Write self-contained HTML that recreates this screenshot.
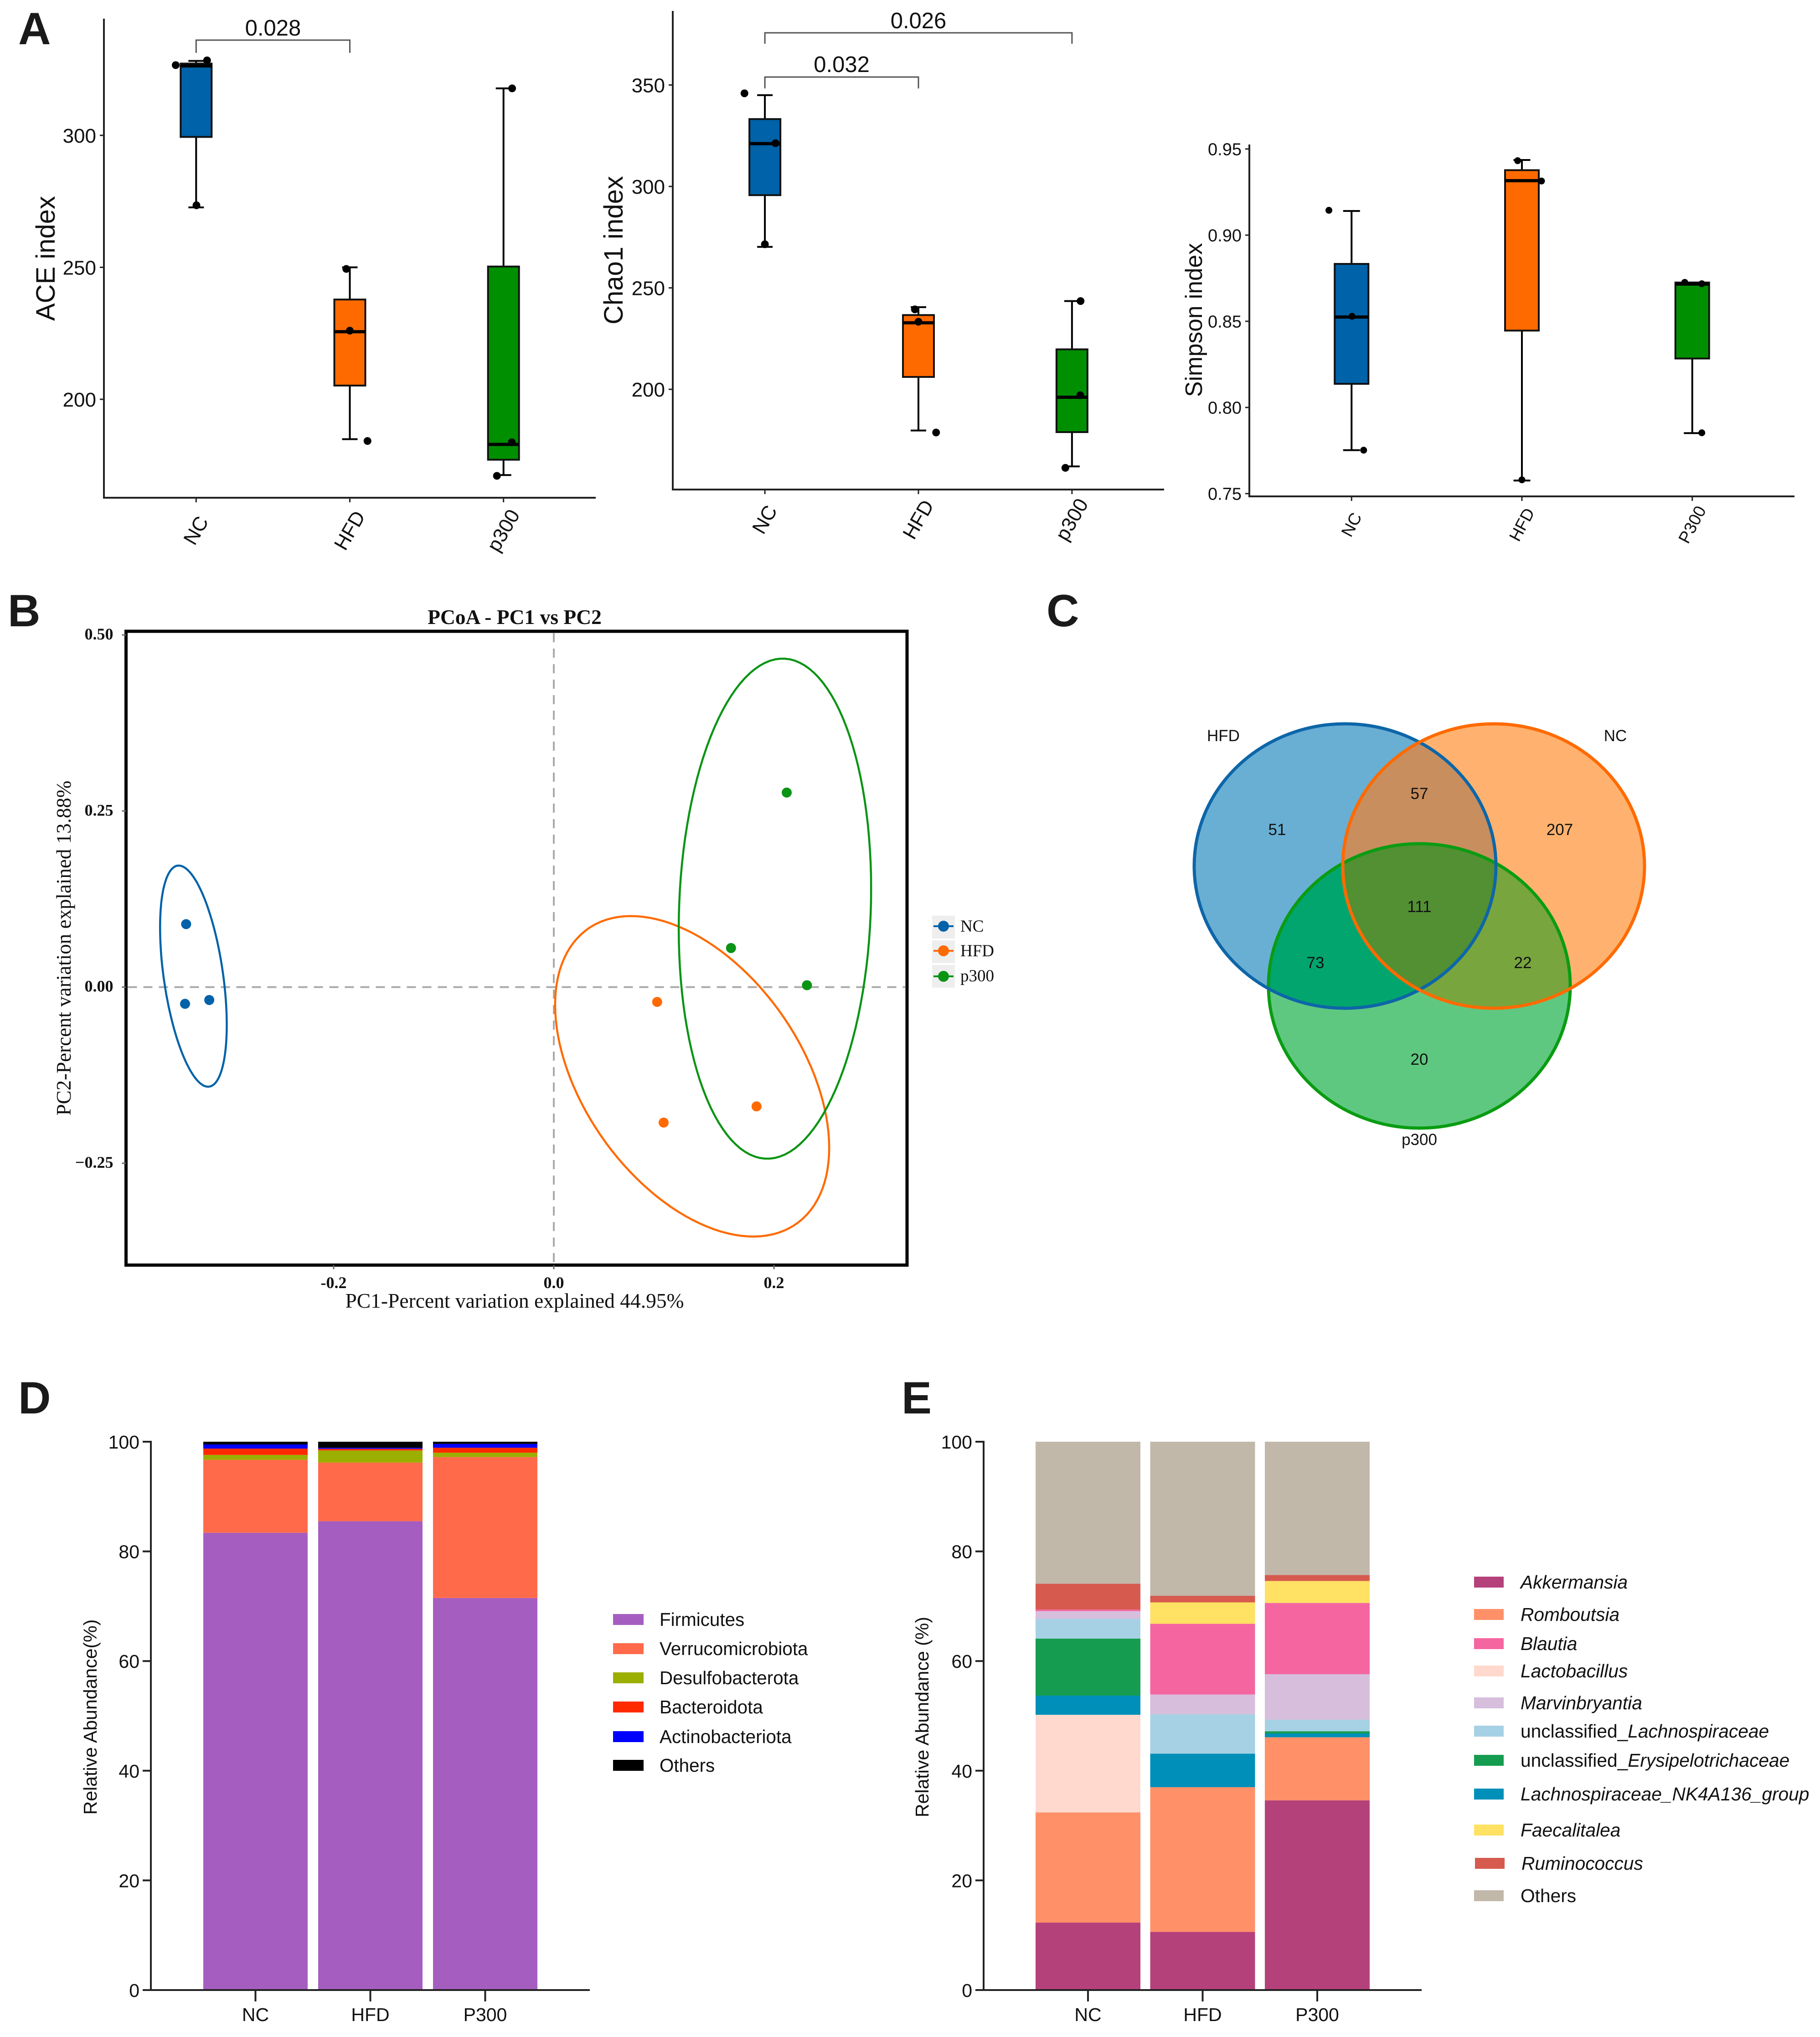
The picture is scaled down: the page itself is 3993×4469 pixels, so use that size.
<!DOCTYPE html>
<html lang="en">
<head>
<meta charset="utf-8">
<title>Microbiome diversity figure</title>
<style>
html,body{margin:0;padding:0;background:#fff;width:3993px;height:4469px;overflow:hidden}
svg{display:block;font-family:"Liberation Sans",sans-serif}
</style>
</head>
<body>
<svg id="fig" xmlns="http://www.w3.org/2000/svg" width="3993" height="4469" viewBox="0 0 3993 4469">
<rect width="3993" height="4469" fill="#fff"/>

<g font-weight="700" font-size="99" fill="#1a1a1a">
<text x="40" y="97">A</text>
<text x="17" y="1374">B</text>
<text x="2296" y="1374">C</text>
<text x="40" y="3101">D</text>
<text x="1978" y="3101">E</text>
</g>

<g id="ace"></g>
<g id="chao"></g>
<g id="simpson"></g>
<g id="pcoa"></g>

<g font-family="'Liberation Serif',serif" font-size="37" fill="#111">
<rect x="2045" y="2009" width="50" height="50" fill="#eee"/>
<rect x="2045" y="2063" width="50" height="50" fill="#eee"/>
<rect x="2045" y="2117" width="50" height="50" fill="#eee"/>
<line x1="2048" x2="2092" y1="2032" y2="2032" stroke="#0062a8" stroke-width="4"/>
<circle cx="2070" cy="2032" r="12" fill="#0062a8"/>
<line x1="2048" x2="2092" y1="2086" y2="2086" stroke="#ff6a00" stroke-width="4"/>
<circle cx="2070" cy="2086" r="12" fill="#ff6a00"/>
<line x1="2048" x2="2092" y1="2142" y2="2142" stroke="#0a9414" stroke-width="4"/>
<circle cx="2070" cy="2142" r="12" fill="#0a9414"/>
<text x="2107" y="2044">NC</text>
<text x="2107" y="2098">HFD</text>
<text x="2107" y="2153">p300</text>
</g>

<g>
<defs>
<clipPath id="clipBlue"><ellipse cx="2951" cy="1900" rx="331" ry="312"/></clipPath>
<clipPath id="clipOrange"><ellipse cx="3277" cy="1900" rx="331" ry="312"/></clipPath>
<clipPath id="clipGreen"><ellipse cx="3114" cy="2163" rx="331" ry="312"/></clipPath>
</defs>
<ellipse cx="2951" cy="1900" rx="331" ry="312" fill="#69afd4"/>
<ellipse cx="3277" cy="1900" rx="331" ry="312" fill="#ffb26f"/>
<g clip-path="url(#clipBlue)"><ellipse cx="3277" cy="1900" rx="331" ry="312" fill="#c88e5e"/></g>
<ellipse cx="3114" cy="2163" rx="331" ry="312" fill="#5fc880"/>
<g clip-path="url(#clipBlue)"><ellipse cx="3114" cy="2163" rx="331" ry="312" fill="#02a56e"/></g>
<g clip-path="url(#clipOrange)"><ellipse cx="3114" cy="2163" rx="331" ry="312" fill="#78a53e"/></g>
<g clip-path="url(#clipBlue)"><g clip-path="url(#clipOrange)"><ellipse cx="3114" cy="2163" rx="331" ry="312" fill="#538f33"/></g></g>
<ellipse cx="3114" cy="2163" rx="331" ry="312" fill="none" stroke="#0a9c12" stroke-width="7"/>
<ellipse cx="2951" cy="1900" rx="331" ry="312" fill="none" stroke="#0d66a8" stroke-width="7"/>
<ellipse cx="3277" cy="1900" rx="331" ry="312" fill="none" stroke="#ff6a00" stroke-width="7"/>
<g font-size="35" fill="#111" text-anchor="middle">
<text x="2684" y="1626">HFD</text>
<text x="3544" y="1626">NC</text>
<text x="3114" y="2512">p300</text>
<text x="2802" y="1832">51</text>
<text x="3114" y="1753">57</text>
<text x="3422" y="1832">207</text>
<text x="3114" y="2001">111</text>
<text x="2886" y="2124">73</text>
<text x="3341" y="2124">22</text>
<text x="3114" y="2336">20</text>
</g>
</g>

<g id="phylum"></g>
<g id="genus"></g>

<g font-size="40.4" fill="#111">
<rect x="1345" y="3541" width="67" height="24" fill="#a55ec0"/>
<text x="1447" y="3567">Firmicutes</text>
<rect x="1345" y="3605" width="67" height="24" fill="#ff6a4a"/>
<text x="1447" y="3631">Verrucomicrobiota</text>
<rect x="1345" y="3669" width="67" height="24" fill="#9baf00"/>
<text x="1447" y="3695">Desulfobacterota</text>
<rect x="1345" y="3733" width="67" height="24" fill="#ff2a00"/>
<text x="1447" y="3759">Bacteroidota</text>
<rect x="1345" y="3798" width="67" height="24" fill="#0000ff"/>
<text x="1447" y="3824">Actinobacteriota</text>
<rect x="1345" y="3861" width="67" height="24" fill="#000"/>
<text x="1447" y="3887">Others</text>
</g>

<g font-size="40.7" fill="#111">
<rect x="3234" y="3459" width="65" height="24" fill="#b5417b"/>
<text x="3336" y="3485" font-style="italic">Akkermansia</text>
<rect x="3234" y="3530" width="65" height="24" fill="#ff9068"/>
<text x="3336" y="3556" font-style="italic">Romboutsia</text>
<rect x="3234" y="3594" width="65" height="24" fill="#f566a0"/>
<text x="3336" y="3620" font-style="italic">Blautia</text>
<rect x="3234" y="3654" width="65" height="24" fill="#ffd9ce"/>
<text x="3336" y="3680" font-style="italic">Lactobacillus</text>
<rect x="3234" y="3724" width="65" height="24" fill="#d6bedc"/>
<text x="3336" y="3750" font-style="italic">Marvinbryantia</text>
<rect x="3234" y="3786" width="65" height="24" fill="#a6d1e4"/>
<text x="3336" y="3812">unclassified_<tspan font-style="italic">Lachnospiraceae</tspan></text>
<rect x="3234" y="3850" width="65" height="24" fill="#169c50"/>
<text x="3336" y="3876">unclassified_<tspan font-style="italic">Erysipelotrichaceae</tspan></text>
<rect x="3234" y="3924" width="65" height="24" fill="#008fb8"/>
<text x="3336" y="3950" font-style="italic">Lachnospiraceae_NK4A136_group</text>
<rect x="3234" y="4003" width="65" height="24" fill="#ffe163"/>
<text x="3336" y="4029" font-style="italic">Faecalitalea</text>
<rect x="3236" y="4076" width="65" height="24" fill="#d65a4e"/>
<text x="3338" y="4102" font-style="italic">Ruminococcus</text>
<rect x="3234" y="4147" width="65" height="24" fill="#c1b8aa"/>
<text x="3336" y="4173">Others</text>
</g>
</svg>

<script>
// ---- Panel A: box plots ----
const boxGroups = ['NC', 'HFD', 'p300'];
const simpsonGroups = ['NC', 'HFD', 'P300'];

const aceTicks = [200, 250, 300];
const aceLow = [272.7, 184.9, 171.3];
const aceQ1 = [299.4, 205.2, 177.1];
const aceMedian = [326.3, 225.6, 182.9];
const aceQ3 = [327.2, 237.8, 250.3];
const aceHigh = [328.2, 250.0, 317.8];
const acePointValues = [[326.6, 328.4, 273.5], [249.4, 226.0, 184.2], [317.8, 183.7, 171.0]];
const acePointJitter = [[-0.133, 0.071, 0.002], [-0.023, 0, 0.115], [0.056, 0.054, -0.043]];

const chaoTicks = [200, 250, 300, 350];
const chaoLow = [270.2, 179.7, 162.0];
const chaoQ1 = [295.7, 206.1, 178.9];
const chaoMedian = [321.1, 232.8, 196.1];
const chaoQ3 = [333.2, 236.6, 219.7];
const chaoHigh = [345.0, 240.5, 243.5];
const chaoPointValues = [[345.9, 321.3, 271.5], [239.4, 233.3, 178.7], [243.5, 197.1, 161.3]];
const chaoPointJitter = [[-0.133, 0.069, 0], [-0.023, 0, 0.115], [0.056, 0.054, -0.043]];

const simpsonTicks = [0.75, 0.80, 0.85, 0.90, 0.95];
const simpsonLow = [0.7752, 0.7576, 0.7851];
const simpsonQ1 = [0.8137, 0.8446, 0.8284];
const simpsonMedian = [0.8525, 0.9316, 0.8716];
const simpsonQ3 = [0.8833, 0.9377, 0.8725];
const simpsonHigh = [0.914, 0.9436, 0.8725];
const simpsonPointValues = [[0.9144, 0.8529, 0.7752], [0.9432, 0.9314, 0.758], [0.8726, 0.8718, 0.7853]];
const simpsonPointJitter = [[-0.133, 0.003, 0.071], [-0.025, 0.115, 0], [-0.044, 0.056, 0.056]];

// ---- Panel B: PCoA ----
const pcoaGroups = ['NC', 'HFD', 'p300'];
const pcoaXTicks = [-0.2, 0, 0.2];
const pcoaXTickLabels = ['-0.2', '0.0', '0.2'];
const pcoaYTicks = [-0.25, 0, 0.25, 0.5];
const pcoaYTickLabels = ['\u22120.25', '0.00', '0.25', '0.50'];
const pcoaPc1 = [[-0.334, -0.335, -0.313], [0.0939, 0.0998, 0.1842], [0.2116, 0.161, 0.23]];
const pcoaPc2 = [[0.0894, -0.0237, -0.0183], [-0.021, -0.1923, -0.1693], [0.2762, 0.0555, 0.0027]];
const ellipseCenterX = [-0.3274, 0.1257, 0.2009];
const ellipseCenterY = [0.0156, -0.1266, 0.1114];
const ellipseHalfX = [0.0303, 0.1245, 0.0874];
const ellipseHalfY = [0.157, 0.2275, 0.355];
const ellipseCorrelation = [-0.44, -0.446, 0.08];

// ---- Panel D: phylum composition ----
const barGroups = ['NC', 'HFD', 'P300'];
const percentTicks = [0, 20, 40, 60, 80, 100];
const phylumNames = ['Firmicutes', 'Verrucomicrobiota', 'Desulfobacterota', 'Bacteroidota', 'Actinobacteriota', 'Others'];
const phylumNC = [83.4, 13.3, 0.9, 1.15, 0.75, 0.5];
const phylumHFD = [85.5, 10.7, 2.2, 0.3, 0.2, 1.1];
const phylumP300 = [71.5, 25.7, 0.8, 0.9, 0.7, 0.4];

// ---- Panel E: genus composition ----
const genusNames = ['Akkermansia', 'Romboutsia', 'Lactobacillus', 'Lachnospiraceae_NK4A136_group', 'unclassified_Erysipelotrichaceae', 'unclassified_Lachnospiraceae', 'Marvinbryantia', 'Blautia', 'Faecalitalea', 'Ruminococcus', 'Others'];
const genusNC = [12.3, 20.1, 17.8, 3.5, 10.4, 3.6, 1.4, 0.3, 0, 4.7, 25.9];
const genusHFD = [10.6, 26.4, 0, 6.1, 0, 7.2, 3.6, 12.9, 3.9, 1.2, 28.1];
const genusP300 = [34.6, 11.5, 0, 0.7, 0.4, 2.1, 8.3, 13.0, 4.0, 1.1, 24.3];

// ---- Styling lookups ----
const boxColors = ['#0062a8', '#ff6a00', '#008f00'];
const scatterColors = ['#0062a8', '#ff6a00', '#0a9414'];
const phylumColors = ['#a55ec0', '#ff6a4a', '#9baf00', '#ff2a00', '#0000ff', '#000000'];
const genusColors = ['#b5417b', '#ff9068', '#ffd9ce', '#008fb8', '#169c50', '#a6d1e4', '#d6bedc', '#f566a0', '#ffe163', '#d65a4e', '#c1b8aa'];

const NS = 'http://www.w3.org/2000/svg';
function make(parent, tag, name, attrs) {
  const el = document.createElementNS(NS, tag);
  
  
  for (const k in attrs) el.setAttribute(k, attrs[k]);
  parent.appendChild(el);
  return el;
}
function line(p, name, x1, y1, x2, y2, stroke, w, extra) {
  return make(p, 'line', name, Object.assign({x1, y1, x2, y2, stroke, 'stroke-width': w}, extra || {}));
}
function text(p, name, x, y, str, attrs) {
  const el = make(p, 'text', name, Object.assign({x, y, fill: '#111'}, attrs || {}));
  el.textContent = str;
  return el;
}
function linear(d0, d1, r0, r1) {
  return v => r0 + (v - d0) * (r1 - r0) / (d1 - d0);
}
function slug(s) { return String(s).toLowerCase().replace(/[^a-z0-9]+/g, '-'); }

function boxPlot(cfg) {
  const g = document.getElementById(cfg.id);
  const yS = linear(cfg.domain[0], cfg.domain[1], cfg.bottom, cfg.top);
  const step = (cfg.right - cfg.left) / (cfg.groups.length + 0.2);
  const xS = i => cfg.left + (i + 0.6) * step;
  line(g, 'y-axis-line', cfg.left, cfg.top, cfg.left, cfg.bottom + 2, '#222', 4);
  line(g, 'x-axis-line', cfg.left - 2, cfg.bottom, cfg.right, cfg.bottom, '#222', 4);
  cfg.ticks.forEach(t => {
    line(g, 'y-tick', cfg.left - 9, yS(t), cfg.left, yS(t), '#222', 3);
    text(g, 'y-tick-label', cfg.left - 17, yS(t) + cfg.tickSize * 0.36, t.toFixed(cfg.decimals), {'font-size': cfg.tickSize, 'text-anchor': 'end'});
  });
  text(g, 'y-axis-title', 0, 0, cfg.title, {'font-size': cfg.titleSize, 'text-anchor': 'middle', transform: 'translate(' + cfg.titleX + ',' + cfg.titleY + ') rotate(-90)'});
  cfg.groups.forEach((name, i) => {
    const x = xS(i), c = cfg.boxWidth / 2;
    line(g, 'x-tick', x, cfg.bottom, x, cfg.bottom + 10, '#222', 3);
    text(g, 'x-tick-label-' + slug(name), 0, 0, name, {'font-size': cfg.catSize, 'text-anchor': 'middle', 'dominant-baseline': 'central', transform: 'translate(' + x + ',' + (cfg.bottom + cfg.catDrop) + ') rotate(' + cfg.catAngle + ')'});
    line(g, 'whisker-' + slug(name), x, yS(cfg.low[i]), x, yS(cfg.high[i]), '#000', 4);
    line(g, 'whisker-cap-high-' + slug(name), x - cfg.boxWidth / 4, yS(cfg.high[i]), x + cfg.boxWidth / 4, yS(cfg.high[i]), '#000', 4);
    line(g, 'whisker-cap-low-' + slug(name), x - cfg.boxWidth / 4, yS(cfg.low[i]), x + cfg.boxWidth / 4, yS(cfg.low[i]), '#000', 4);
    make(g, 'rect', 'box-' + slug(name), {x: x - c, y: yS(cfg.q3[i]), width: cfg.boxWidth, height: yS(cfg.q1[i]) - yS(cfg.q3[i]), fill: boxColors[i], stroke: '#111', 'stroke-width': 4});
    line(g, 'median-' + slug(name), x - c, yS(cfg.median[i]), x + c, yS(cfg.median[i]), '#000', 7);
    cfg.pointValues[i].forEach((v, k) => {
      make(g, 'circle', 'sample-point-' + slug(name), {cx: x + cfg.pointJitter[i][k] * step, cy: yS(v), r: cfg.pointR, fill: '#000'});
    });
  });
  (cfg.brackets || []).forEach(b => {
    const x1 = xS(b.from), x2 = xS(b.to);
    make(g, 'path', 'significance-bracket', {d: 'M' + x1 + ' ' + b.drop + 'V' + b.y + 'H' + x2 + 'V' + b.drop, fill: 'none', stroke: '#555', 'stroke-width': 3});
    text(g, 'p-value-label', (x1 + x2) / 2, b.base, b.label, {'font-size': 49, 'text-anchor': 'middle'});
  });
}

boxPlot({id: 'ace', groups: boxGroups, left: 228, right: 1307, top: 41, bottom: 1092, domain: [162.7, 344.2],
  ticks: aceTicks, decimals: 0, low: aceLow, q1: aceQ1, median: aceMedian, q3: aceQ3, high: aceHigh,
  pointValues: acePointValues, pointJitter: acePointJitter, boxWidth: 68, pointR: 8.5,
  tickSize: 44, titleSize: 58, title: 'ACE index', titleX: 120, titleY: 567, catSize: 44, catDrop: 72, catAngle: -60,
  brackets: [{from: 0, to: 1, y: 88, drop: 116, base: 78, label: '0.028'}]});

boxPlot({id: 'chao', groups: boxGroups, left: 1476, right: 2554, top: 24, bottom: 1074, domain: [150.6, 386.5],
  ticks: chaoTicks, decimals: 0, low: chaoLow, q1: chaoQ1, median: chaoMedian, q3: chaoQ3, high: chaoHigh,
  pointValues: chaoPointValues, pointJitter: chaoPointJitter, boxWidth: 68, pointR: 8.5,
  tickSize: 44, titleSize: 58, title: 'Chao1 index', titleX: 1366, titleY: 549, catSize: 44, catDrop: 66, catAngle: -60,
  brackets: [{from: 0, to: 2, y: 72, drop: 96, base: 62, label: '0.026'}, {from: 0, to: 1, y: 169, drop: 194, base: 158, label: '0.032'}]});

boxPlot({id: 'simpson', groups: simpsonGroups, left: 2741, right: 3937, top: 317, bottom: 1089, domain: [0.7484, 0.9526],
  ticks: simpsonTicks, decimals: 2, low: simpsonLow, q1: simpsonQ1, median: simpsonMedian, q3: simpsonQ3, high: simpsonHigh,
  pointValues: simpsonPointValues, pointJitter: simpsonPointJitter, boxWidth: 74, pointR: 7.5,
  tickSize: 38, titleSize: 51.5, title: 'Simpson index', titleX: 2637, titleY: 702, catSize: 37, catDrop: 62, catAngle: -62});

// PCoA scatter
(function () {
  const g = document.getElementById('pcoa');
  const L = 276.5, R = 1990, T = 1385, B = 2775.5;
  const xS = linear(-0.2, 0.2, 732, 1698);
  const yS = linear(-0.25, 0.5, 2552, 1393);
  const serif = "'Liberation Serif',serif";
  make(g, 'rect', 'plot-frame', {x: L, y: T, width: R - L, height: B - T, fill: '#fff', stroke: '#000', 'stroke-width': 7});
  line(g, 'zero-line-vertical', xS(0), T + 4, xS(0), B - 4, '#aaa', 4, {'stroke-dasharray': '20 14'});
  line(g, 'zero-line-horizontal', L + 4, yS(0), R - 4, yS(0), '#aaa', 4, {'stroke-dasharray': '20 14'});
  pcoaXTicks.forEach((t, i) => {
    line(g, 'x-tick', xS(t), B, xS(t), B + 9, '#666', 3);
    text(g, 'x-tick-label', xS(t), 2826, pcoaXTickLabels[i], {'font-size': 36, 'font-weight': 700, 'font-family': serif, 'text-anchor': 'middle'});
  });
  pcoaYTicks.forEach((t, i) => {
    line(g, 'y-tick', L - 9, yS(t), L, yS(t), '#666', 3);
    text(g, 'y-tick-label', L - 28, yS(t) + 10, pcoaYTickLabels[i], {'font-size': 36, 'font-weight': 700, 'font-family': serif, 'text-anchor': 'end'});
  });
  text(g, 'chart-title', 1129, 1369, 'PCoA - PC1 vs PC2', {'font-size': 45.5, 'font-weight': 700, 'font-family': serif, 'text-anchor': 'middle'});
  text(g, 'x-axis-title', 1129, 2869, 'PC1-Percent variation explained 44.95%', {'font-size': 45.5, 'font-family': serif, 'text-anchor': 'middle'});
  text(g, 'y-axis-title', 0, 0, 'PC2-Percent variation explained 13.88%', {'font-size': 45, 'font-family': serif, 'text-anchor': 'middle', transform: 'translate(155,2080) rotate(-90)'});
  pcoaGroups.forEach((name, i) => {
    const phi = Math.acos(ellipseCorrelation[i]);
    const pts = [];
    for (let k = 0; k < 120; k++) {
      const t = k / 120 * 2 * Math.PI;
      const dx = ellipseCenterX[i] + ellipseHalfX[i] * Math.cos(t);
      const dy = ellipseCenterY[i] + ellipseHalfY[i] * Math.cos(t - phi);
      pts.push(xS(dx).toFixed(1) + ',' + yS(dy).toFixed(1));
    }
    make(g, 'polygon', 'confidence-ellipse-' + slug(name), {points: pts.join(' '), fill: 'none', stroke: scatterColors[i], 'stroke-width': 4.5});
    pcoaPc1[i].forEach((v, k) => {
      make(g, 'circle', 'sample-point-' + slug(name), {cx: xS(v), cy: yS(pcoaPc2[i][k]), r: 11, fill: scatterColors[i]});
    });
  });
})();

function stacked(cfg) {
  const g = document.getElementById(cfg.id);
  const yS = linear(0, 100, cfg.y0, cfg.y100);
  const xS = i => (cfg.left + cfg.right) / 2 + (i - (cfg.groups.length - 1) / 2) * cfg.step;
  cfg.groups.forEach((name, i) => {
    let acc = 0;
    cfg.series[i].forEach((v, k) => {
      if (v > 0) {
        make(g, 'rect', 'bar-' + slug(name) + '-' + slug(cfg.names[k]), {x: xS(i) - cfg.barWidth / 2, y: yS(acc + v), width: cfg.barWidth, height: yS(acc) - yS(acc + v), fill: cfg.colors[k]});
      }
      acc += v;
    });
    line(g, 'x-tick', xS(i), cfg.y0, xS(i), cfg.y0 + 25, '#222', 4);
    text(g, 'x-tick-label-' + slug(name), xS(i), cfg.y0 + 68, name, {'font-size': 41, 'text-anchor': 'middle'});
  });
  line(g, 'y-axis-line', cfg.left, cfg.y100 - 2, cfg.left, cfg.y0 + 2, '#222', 4);
  line(g, 'x-axis-line', cfg.left - 2, cfg.y0, cfg.right, cfg.y0, '#222', 4);
  percentTicks.forEach(t => {
    line(g, 'y-tick', cfg.left - 18, yS(t), cfg.left, yS(t), '#222', 4);
    text(g, 'y-tick-label', cfg.left - 25, yS(t) + 15, t, {'font-size': 41, 'text-anchor': 'end'});
  });
  text(g, 'y-axis-title', 0, 0, cfg.title, {'font-size': 41, 'text-anchor': 'middle', transform: 'translate(' + cfg.titleX + ',3767) rotate(-90)'});
}

stacked({id: 'phylum', groups: barGroups, names: phylumNames, colors: phylumColors, series: [phylumNC, phylumHFD, phylumP300],
  left: 331, right: 1294, step: 252, barWidth: 229, y0: 4366, y100: 3163, title: 'Relative Abundance(%)', titleX: 212});
stacked({id: 'genus', groups: barGroups, names: genusNames, colors: genusColors, series: [genusNC, genusHFD, genusP300],
  left: 2158, right: 3119, step: 251.5, barWidth: 230, y0: 4366, y100: 3163, title: 'Relative Abundance (%)', titleX: 2037});
</script>
</body>
</html>
